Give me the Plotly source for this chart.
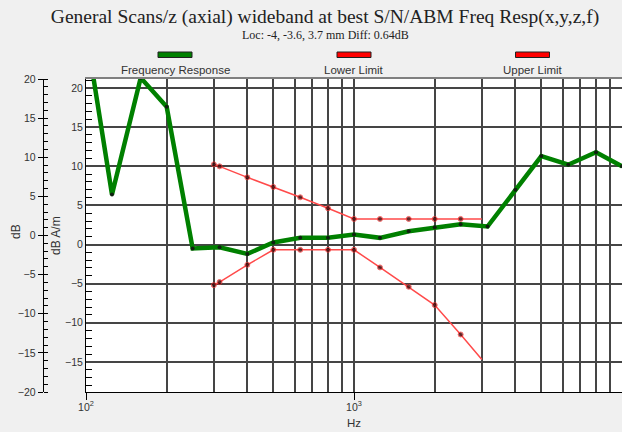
import plotly.graph_objects as go

# ---------------- data ----------------
resp_hz = [100, 125, 160, 200, 250, 315, 400, 500, 630, 800, 1000,
           1250, 1600, 2000, 2500, 3150, 4000, 5000, 6300, 8000, 10000]
resp_db = [27.3, 6.4, 21.3, 17.6, -0.5, -0.35, -1.2, 0.25, 0.85, 0.85, 1.28,
           0.85, 1.7, 2.2, 2.6, 2.3, 7.0, 11.3, 10.2, 11.8, 10.0]

limit_hz = [300, 315, 400, 500, 630, 800, 1000, 1250, 1600, 2000, 2500, 3000]
upper_db = [10.24, 9.99, 8.58, 7.36, 6.03, 4.63, 3.27, 3.27, 3.27, 3.27, 3.27, 3.27]
lower_db = [-5.19, -4.8, -2.6, -0.68, -0.68, -0.68, -0.68, -2.93, -5.4, -7.74, -11.5, -14.7]

grid_hz = [100, 200, 300, 400, 500, 600, 700, 800, 900,
           1000, 2000, 3000, 4000, 5000, 6000, 7000, 8000, 9000, 10000]
decade_hz = [100, 1000, 10000]
decade_text = ["10<sup>2</sup>", "10<sup>3</sup>", "10<sup>4</sup>"]

inner_range = [-18.85, 21.15]
outer_range = [-20, 20]

title_text = "General Scans/z (axial) wideband at best S/N/ABM Freq Resp(x,y,z,f)"
subtitle_text = "Loc: -4, -3.6, 3.7 mm Diff: 0.64dB"
legend_names = ["Frequency Response", "Lower Limit", "Upper Limit"]
legend_colors = ["#008000", "#ff0000", "#ff0000"]

# ---------------- layout geometry ----------------
W, H = 622, 432
T, B = 79, 40
PLOT_L = 86
PH = H - T - B


def px_x(p):
    return p / W


def px_y(p):
    return (H - B - p) / PH


SANS = "Liberation Sans, Arial, sans-serif"
SERIF = "Liberation Serif, Times New Roman, serif"
GRID = "#454545"
TXT = "#333333"

fig = go.Figure()

# empty helper traces so overlay axes get drawn
fig.add_trace(go.Scatter(x=[None], y=[None], xaxis="x2", yaxis="y", showlegend=False, hoverinfo="skip"))
fig.add_trace(go.Scatter(x=[None], y=[None], xaxis="x3", yaxis="y", showlegend=False, hoverinfo="skip"))
fig.add_trace(go.Scatter(x=[None], y=[None], xaxis="x", yaxis="y2", showlegend=False, hoverinfo="skip"))

fig.add_trace(go.Scatter(
    x=resp_hz, y=resp_db, mode="lines+markers", name=legend_names[0],
    line=dict(color="#008000", width=4.5),
    marker=dict(size=4, color="#102010"),
    showlegend=False))

lim_sizes = [5] * (len(limit_hz) - 1) + [0]
for ys, nm in [(lower_db, legend_names[1]), (upper_db, legend_names[2])]:
    fig.add_trace(go.Scatter(
        x=limit_hz, y=ys, mode="lines+markers", name=nm,
        line=dict(color="#ff4a4a", width=1.5),
        marker=dict(size=lim_sizes, color="#2a0000", line=dict(color="#ff3030", width=1)),
        showlegend=False))

grid_text = [decade_text[decade_hz.index(v)] if v in decade_hz else " " for v in grid_hz]

fig.update_layout(
    width=W, height=H, autosize=False,
    margin=dict(l=0, r=0, t=T, b=B, pad=0, autoexpand=False),
    paper_bgcolor="#f0f0f0",
    plot_bgcolor="#ffffff",
    font=dict(family=SANS, size=11, color=TXT),
    title=dict(text=title_text, x=325 / W, xref="container", xanchor="center",
               y=1 - 16 / H, yref="container", yanchor="middle", automargin=False,
               font=dict(family=SERIF, size=19.5, color="#222222")),
    xaxis=dict(type="log", range=[2, 4], domain=[PLOT_L / W, 1], anchor="y",
               tickvals=grid_hz, ticktext=grid_text, ticks="", automargin=False,
               ticklabelstandoff=5,
               showgrid=True, gridcolor=GRID, gridwidth=1.7,
               showline=True, linecolor="black", linewidth=1,
               tickfont=dict(size=10.5, color=TXT),
               title=dict(text="Hz", standoff=7, font=dict(size=11.5, color=TXT)),
               zeroline=False),
    xaxis2=dict(type="log", range=[2, 4], overlaying="x", anchor="y", side="bottom",
                tickvals=decade_hz, ticks="outside", ticklen=7, tickcolor="black",
                automargin=False,
                showticklabels=False, showgrid=False, showline=False, zeroline=False),
    xaxis3=dict(type="log", range=[2, 4], overlaying="x", anchor="y", side="top",
                showline=True, linecolor="#808080", linewidth=2, ticks="",
                automargin=False,
                showticklabels=False, showgrid=False, zeroline=False),
    yaxis=dict(range=inner_range, tick0=0, dtick=5, ticks="", automargin=False,
               showgrid=True, gridcolor=GRID, gridwidth=1.7,
               showline=True, linecolor="black", linewidth=1, zeroline=False,
               tickfont=dict(size=10.5, color=TXT),
               minor=dict(tick0=0, dtick=1, ticks="inside", ticklen=6,
                          tickcolor="black", showgrid=False)),
    yaxis2=dict(range=outer_range, overlaying="y", anchor="free", position=42.7 / W,
                side="left", tick0=0, dtick=5, ticks="outside", ticklen=5,
                automargin=False,
                tickcolor="black", showline=True, linecolor="black", linewidth=1,
                showgrid=False, zeroline=False,
                tickfont=dict(size=10.5, color=TXT),
                minor=dict(tick0=0, dtick=1, ticks="inside", ticklen=4,
                           tickcolor="black", showgrid=False)),
)

annotations = [
    dict(text=subtitle_text, x=325.5 / W, y=px_y(35), xref="paper", yref="paper",
         showarrow=False, xanchor="center", yanchor="middle",
         font=dict(family=SERIF, size=12, color="#222222")),
    dict(text="dB", x=px_x(16), y=px_y(232), xref="paper", yref="paper",
         showarrow=False, textangle=-90, xanchor="center", yanchor="middle",
         font=dict(size=12, color=TXT)),
    dict(text="dB A/m", x=px_x(56), y=px_y(236), xref="paper", yref="paper",
         showarrow=False, textangle=-90, xanchor="center", yanchor="middle",
         font=dict(size=12, color=TXT)),
]
shapes = []
legend_cx = [175, 354, 532.5]
for cx, nm, col in zip(legend_cx, legend_names, legend_colors):
    annotations.append(dict(text=nm, x=px_x(cx), y=px_y(69.5), xref="paper", yref="paper",
                            showarrow=False, xanchor="center", yanchor="middle",
                            font=dict(size=11.5, color=TXT)))
    shapes.append(dict(type="rect", xref="paper", yref="paper",
                       x0=px_x(cx - 17), x1=px_x(cx + 17), y0=px_y(57.5), y1=px_y(52),
                       fillcolor=col, line=dict(color="#202020", width=1)))

fig.update_layout(annotations=annotations, shapes=shapes)

fig.write_html("out.html", config={"displayModeBar": False},
               post_script="document.body.style.margin='0px';document.body.style.overflow='hidden';")
